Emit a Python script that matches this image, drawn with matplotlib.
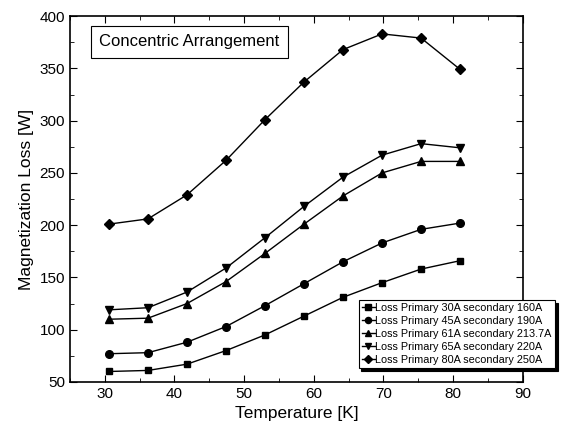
import matplotlib.pyplot as plt
from matplotlib.ticker import MultipleLocator

plt.rcParams['font.family'] = ['Liberation Sans', 'DejaVu Sans']

# temperature points (K)
temps = [30.6, 36.2, 41.8, 47.4, 53.0, 58.6, 64.2, 69.8, 75.4, 81.0]

# magnetization loss (W) per current setting
loss_30_160 = [60, 61, 67, 80, 95, 113, 131, 145, 158, 166]
loss_45_190 = [77, 78, 88, 103, 123, 144, 165, 183, 196, 202]
loss_61_213 = [110, 111, 125, 146, 173, 201, 228, 250, 261, 261]
loss_65_220 = [119, 121, 136, 159, 188, 218, 246, 267, 278, 274]
loss_80_250 = [201, 206, 229, 262, 301, 337, 368, 383, 379, 349]

labels = ["Loss Primary 30A secondary 160A",
          "Loss Primary 45A secondary 190A",
          "Loss Primary 61A secondary 213.7A",
          "Loss Primary 65A secondary 220A",
          "Loss Primary 80A secondary 250A"]
markers = ['s', 'o', '^', 'v', 'D']
msizes = [5, 5.5, 6, 6, 5]

fig = plt.figure(figsize=(5.64, 4.36), dpi=100)
ax = fig.add_axes([0.124, 0.124, 0.803, 0.839])

series = [loss_30_160, loss_45_190, loss_61_213, loss_65_220, loss_80_250]
for vals, lab, m, ms in zip(series, labels, markers, msizes):
    ax.plot(temps, vals, color='black', lw=1, marker=m, ms=ms, label=lab)

ax.set_xlim(25, 90)
ax.set_ylim(50, 400)
ax.xaxis.set_major_locator(MultipleLocator(10))
ax.xaxis.set_minor_locator(MultipleLocator(5))
ax.yaxis.set_major_locator(MultipleLocator(50))
ax.yaxis.set_minor_locator(MultipleLocator(25))
ax.tick_params(which='both', direction='in', top=True, right=True, labelsize=11)
ax.tick_params(which='major', length=5)
ax.tick_params(which='minor', length=3)
for s in ax.spines.values():
    s.set_linewidth(1.2)

ax.set_xlabel("Temperature [K]", fontsize=12.5)
ax.set_ylabel("Magnetization Loss [W]", fontsize=12.5)

ax.text(0.065, 0.93, "Concentric Arrangement", transform=ax.transAxes,
        fontsize=12, va='center', ha='left',
        bbox=dict(boxstyle='square,pad=0.5', fc='white', ec='black', lw=0.8))

leg = ax.legend(loc='lower left', bbox_to_anchor=(0.636, 0.155, 0.34, 0.2),
                bbox_transform=fig.transFigure, fontsize=7.8, handlelength=1.2,
                handletextpad=0.05, labelspacing=0.28, borderpad=0.3,
                borderaxespad=0, fancybox=False,
                shadow={'color': 'black', 'alpha': 1, 'ox': 2, 'oy': -2},
                framealpha=1, edgecolor='black', markerscale=0.8)
leg.get_frame().set_linewidth(0.8)

fig.savefig("out.png", dpi=100)
